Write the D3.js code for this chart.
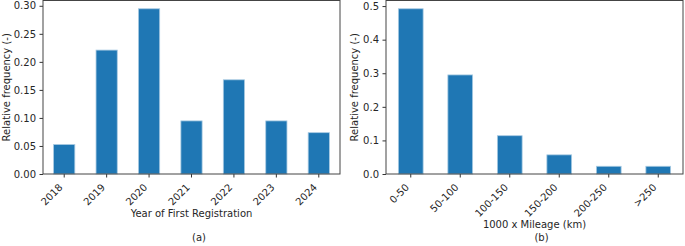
<!DOCTYPE html>
<html>
<head>
<meta charset="utf-8">
<script src="https://cdn.jsdelivr.net/npm/d3@7"></script>
<style>
    body { margin: 0; background: #fff; }
    svg text { font-family: "DejaVu Sans", sans-serif; fill: #262626; }
</style>
</head>
<body>
<div id="chart"></div>
<script>
// panel (a): year of first registration
const years = ["2018", "2019", "2020", "2021", "2022", "2023", "2024"];
const yearFreq = [0.0526, 0.221, 0.2947, 0.0947, 0.168, 0.0947, 0.0737];
const yearTicks = [0, 0.05, 0.10, 0.15, 0.20, 0.25, 0.30];

// panel (b): mileage
const mileage = ["0-50", "50-100", "100-150", "150-200", "200-250", ">250"];
const mileageFreq = [0.492, 0.295, 0.114, 0.057, 0.023, 0.023];
const mileageTicks = [0, 0.1, 0.2, 0.3, 0.4, 0.5];

const W = 685, H = 246;

const svg = d3.select("#chart").append("svg")
    .attr("width", W)
    .attr("height", H);

function panel(opt) {
    const {x0, x1, y0, y1, cats, vals, ticks, fmt, xlabel, xlabelY, tag, tagX, ylabelX} = opt;

    const x = d3.scaleBand()
        .domain(cats)
        .range([x0, x1])
        .paddingInner(0.5)
        .paddingOuter(0.25);

    const y = d3.scaleLinear()
        .domain([0, d3.max(vals) * 1.05])
        .range([y1, y0]);

    const g = svg.append("g");

    g.selectAll("rect.bar")
        .data(cats.map((c, i) => ({c, v: vals[i]})))
        .join("rect")
        .attr("class", "bar")
        .attr("x", d => x(d.c))
        .attr("width", x.bandwidth())
        .attr("y", d => y(d.v))
        .attr("height", d => y1 - y(d.v))
        .attr("fill", "#1f77b4")
        .attr("stroke", "#a8cae2")
        .attr("stroke-width", 0.8);

    // y axis
    const yAxis = d3.axisLeft(y)
        .tickValues(ticks)
        .tickFormat(d3.format(fmt))
        .tickSize(3.5)
        .tickPadding(3.5);
    const ya = g.append("g")
        .attr("transform", `translate(${x0},0)`)
        .call(yAxis);
    ya.select(".domain").remove();
    ya.selectAll("line").attr("stroke", "#333");
    ya.selectAll("text").attr("font-size", 10).attr("fill", "#262626")
        .attr("font-family", "DejaVu Sans");

    // x axis
    const xAxis = d3.axisBottom(x).tickSize(3.5).tickPadding(0);
    const xa = g.append("g")
        .attr("transform", `translate(0,${y1})`)
        .call(xAxis);
    xa.select(".domain").remove();
    xa.selectAll("line").attr("stroke", "#333");
    xa.selectAll("text")
        .attr("font-size", 10)
        .attr("font-family", "DejaVu Sans")
        .attr("fill", "#262626")
        .attr("text-anchor", "end")
        .attr("y", 0).attr("dy", 0)
        .attr("transform", "translate(-1,14) rotate(-45)");

    // frame
    g.append("rect")
        .attr("x", x0).attr("y", y0)
        .attr("width", x1 - x0).attr("height", y1 - y0)
        .attr("fill", "none")
        .attr("stroke", "#444")
        .attr("stroke-width", 1);

    g.append("text")
        .attr("transform", `translate(${ylabelX},${(y0 + y1) / 2}) rotate(-90)`)
        .attr("text-anchor", "middle")
        .attr("font-size", 10)
        .text("Relative frequency (-)");

    g.append("text")
        .attr("x", (x0 + x1) / 2)
        .attr("y", xlabelY)
        .attr("text-anchor", "middle")
        .attr("font-size", 10)
        .text(xlabel);

    g.append("text")
        .attr("x", tagX)
        .attr("y", 241)
        .attr("text-anchor", "middle")
        .attr("font-size", 10)
        .text(tag);
}

panel({
    x0: 43, x1: 340, y0: 0.5, y1: 174,
    cats: years, vals: yearFreq, ticks: yearTicks, fmt: ".2f",
    xlabel: "Year of First Registration", xlabelY: 216.5,
    tag: "(a)", tagX: 199, ylabelX: 9.5
});

panel({
    x0: 386, x1: 683, y0: 0.5, y1: 174,
    cats: mileage, vals: mileageFreq, ticks: mileageTicks, fmt: ".1f",
    xlabel: "1000 x Mileage (km)", xlabelY: 228,
    tag: "(b)", tagX: 541.5, ylabelX: 358
});
</script>
</body>
</html>
